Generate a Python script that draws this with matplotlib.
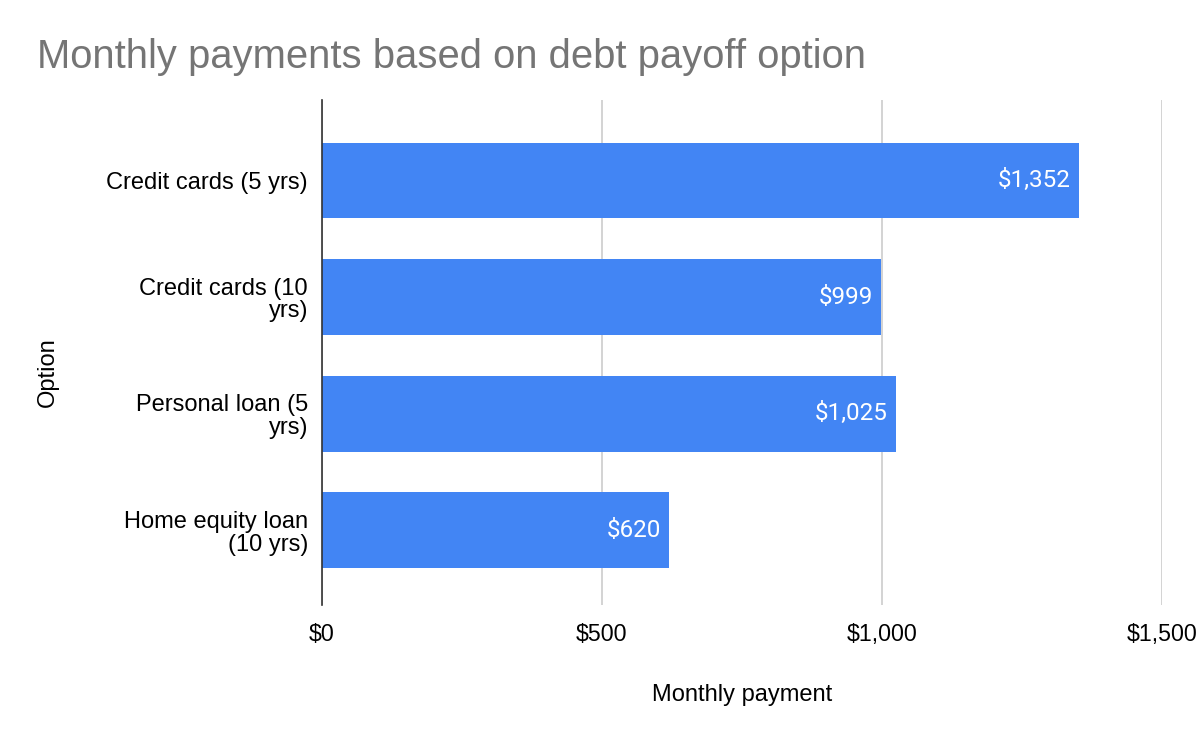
import matplotlib.pyplot as plt
from matplotlib.ticker import FuncFormatter

# dados
opcoes = ['Credit cards (5 yrs)', 'Credit cards (10\nyrs)', 'Personal loan (5\nyrs)', 'Home equity loan\n(10 yrs)']
pagamentos = [1352, 999, 1025, 620]
rotulos = ['$1,352', '$999', '$1,025', '$620']

plt.rcParams['font.family'] = ['Liberation Sans', 'DejaVu Sans']

fig = plt.figure(figsize=(12, 7.42), dpi=100)
ax = fig.add_axes([0.2683, 0.1846, 0.70, 0.6806])

pos = list(range(len(opcoes)))
barras = ax.barh(pos, pagamentos, height=0.65, color='#4285F4', zorder=3)

for b, txt in zip(barras, rotulos):
    ax.text(b.get_width() - 15, b.get_y() + b.get_height() / 2, txt,
            ha='right', va='center', color='white', fontsize=17.5,
            family=['Roboto', 'DejaVu Sans'], zorder=4)

ax.set_xlim(0, 1500)
ax.set_ylim(3.64, -0.69)
ax.set_xticks([0, 500, 1000, 1500])
ax.xaxis.set_major_formatter(FuncFormatter(lambda v, p: '${:,.0f}'.format(v)))
ax.set_yticks(pos)
ax.set_yticklabels(opcoes, fontsize=17, linespacing=1.05)
ax.tick_params(axis='x', labelsize=16.7, length=0, pad=13)
ax.tick_params(axis='y', length=0, pad=10)

ax.xaxis.grid(True, color='#cccccc', linewidth=1.2, zorder=0)
for s in ['top', 'right', 'bottom']:
    ax.spines[s].set_visible(False)
ax.spines['left'].set_color('#333333')
ax.spines['left'].set_linewidth(1.2)
ax.spines['left'].set_zorder(5)

ax.set_xlabel('Monthly payment', fontsize=17, labelpad=27)
fig.text(0.04, 0.499, 'Option', rotation=90, ha='center', va='center', fontsize=17)
fig.text(0.031, 0.923, 'Monthly payments based on debt payoff option',
         fontsize=28.8, color='#757575', va='center')

plt.savefig('out.png', dpi=100)
